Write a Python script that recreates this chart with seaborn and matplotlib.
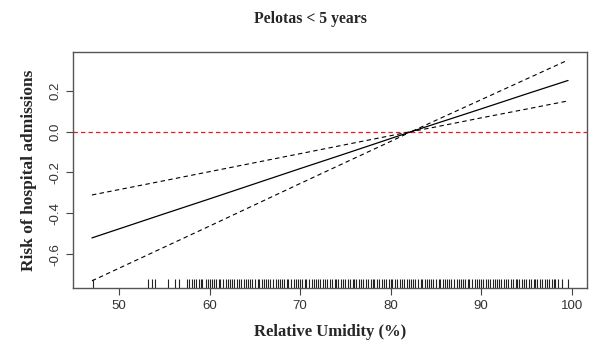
import numpy as np
import pandas as pd
import matplotlib
matplotlib.use("Agg")
import matplotlib.pyplot as plt
import seaborn as sns

# curva estimada (GAM) e intervalo de confianca
umidade = [47.0, 55.0, 60.0, 65.0, 70.0, 75.0, 80.0, 82.3, 85.0, 90.0, 95.0, 99.6]
risco = [-0.52, -0.402, -0.329, -0.255, -0.181, -0.108, -0.034, 0.0, 0.039, 0.111, 0.184, 0.25]
superior = [-0.31, -0.240, -0.196, -0.152, -0.108, -0.064, -0.020, 0.0, 0.055, 0.156, 0.257, 0.35]
inferior = [-0.73, -0.565, -0.462, -0.358, -0.254, -0.151, -0.048, 0.0, 0.023, 0.067, 0.110, 0.15]

# valores observados de umidade (rug)
rug_umidade = [
    47.1, 53.2, 53.6, 54.0, 55.4, 56.2, 56.6,
    57.5, 57.7, 58.0, 58.3, 58.5, 58.8, 59.0, 59.2, 59.6, 59.8,
    60.0, 60.3, 60.5, 60.7, 61.0, 61.2, 61.5, 61.8, 62.0, 62.3, 62.5, 62.7,
    63.0, 63.2, 63.5, 63.8, 64.0, 64.2, 64.5, 64.7, 65.0, 65.3, 65.5, 65.8,
    66.0, 66.2, 66.5, 66.7, 67.0, 67.3, 67.5, 67.8, 68.0, 68.2, 68.5, 68.7,
    69.0, 69.3, 69.5, 69.8, 70.0, 70.2, 70.5, 70.7, 71.0, 71.3, 71.5, 71.8,
    72.0, 72.2, 72.5, 72.7, 73.0, 73.3, 73.5, 73.8, 74.0, 74.2, 74.5, 74.7,
    75.0, 75.3, 75.5, 75.8, 76.0, 76.2, 76.5, 76.7, 77.0, 77.3, 77.5, 77.8,
    78.0, 78.2, 78.5, 78.7, 79.0, 79.3, 79.5, 79.8, 80.0, 80.2, 80.5, 80.7,
    81.0, 81.3, 81.5, 81.8, 82.0, 82.2, 82.5, 82.7, 83.0, 83.3, 83.5, 83.8,
    84.0, 84.2, 84.5, 84.7, 85.0, 85.3, 85.5, 85.8, 86.0, 86.2, 86.5, 86.7,
    87.0, 87.3, 87.5, 87.8, 88.0, 88.2, 88.5, 88.7, 89.0, 89.3, 89.5, 89.8,
    90.0, 90.2, 90.5, 90.7, 91.0, 91.3, 91.5, 91.8, 92.0, 92.2, 92.5, 92.7,
    93.0, 93.3, 93.5, 93.8, 94.0, 94.2, 94.5, 94.7, 95.0, 95.3, 95.5, 95.8,
    96.0, 96.2, 96.5, 96.7, 97.0, 97.3, 97.5, 97.8, 98.0, 98.2, 98.5, 98.9,
    99.6,
]

xticks = [50, 60, 70, 80, 90, 100]
yticks = [-0.6, -0.4, -0.2, 0.0, 0.2]

sns.set_style("ticks")
plt.rcParams["font.family"] = ["Liberation Sans", "DejaVu Sans"]

fig = plt.figure(figsize=(5.93, 3.6), dpi=100)
ax = fig.add_axes([0.123, 0.2, 0.867, 0.656])

df = pd.DataFrame({"umidade": umidade, "risco": risco,
                   "superior": superior, "inferior": inferior})

ax.axhline(0, color="#e8191f", linestyle=(0, (3.5, 2.5)), linewidth=0.9)
sns.lineplot(data=df, x="umidade", y="risco", ax=ax, color="black", linewidth=0.9)
sns.lineplot(data=df, x="umidade", y="superior", ax=ax, color="black",
             linewidth=0.8, linestyle=(0, (4, 3)))
sns.lineplot(data=df, x="umidade", y="inferior", ax=ax, color="black",
             linewidth=0.8, linestyle=(0, (4, 3)))
sns.rugplot(x=rug_umidade, ax=ax, height=0.04, color="#222222", linewidth=0.8)

ax.set_xlim(44.9, 101.7)
ax.set_ylim(-0.765, 0.39)
ax.set_xticks(xticks)
ax.set_yticks(yticks)
ax.set_yticklabels([f"{v:.1f}" for v in yticks], rotation=90, va="center")
ax.tick_params(axis="both", direction="out", length=5, width=0.8,
               colors="#444444", labelsize=9.5, labelcolor="#333333")
for s in ax.spines.values():
    s.set_visible(True)
    s.set_color("#555555")
    s.set_linewidth(1.0)

ax.set_xlabel("Relative Umidity (%)", family="Liberation Serif",
              fontweight="bold", fontsize=12, labelpad=9)
ax.set_ylabel("Risk of hospital admissions", family="Liberation Serif",
              fontweight="bold", fontsize=12.5, labelpad=9)
fig.text(0.524, 0.948, "Pelotas < 5 years", family="Liberation Serif",
         fontweight="bold", fontsize=11.3, ha="center", va="center")

fig.savefig("out.png", dpi=100)
